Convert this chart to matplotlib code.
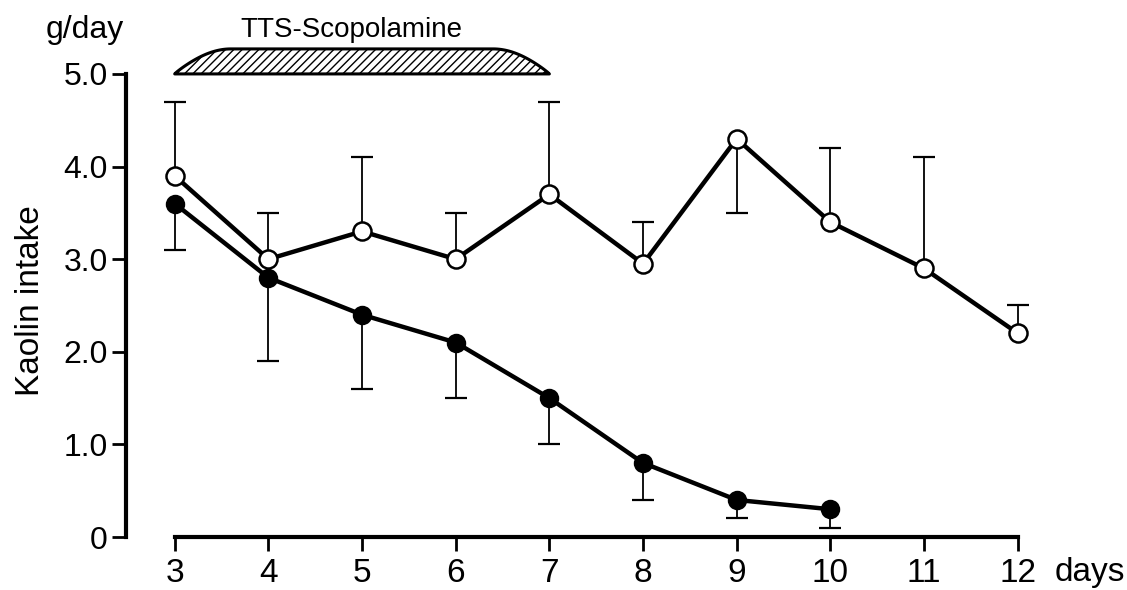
import numpy as np
import matplotlib
matplotlib.use("Agg")
import matplotlib.pyplot as plt

plt.rcParams['font.family'] = ['Liberation Sans', 'DejaVu Sans']

# kaolin intake (g/day), open = control, filled = scopolamine
days_open = [3, 4, 5, 6, 7, 8, 9, 10, 11, 12]
open_mean = [3.9, 3.0, 3.3, 3.0, 3.7, 2.95, 4.3, 3.4, 2.9, 2.2]
# open circles: upper bar on all days except day 9, which has a lower bar
open_err_up = [0.8, 0.5, 0.8, 0.5, 1.0, 0.45, 0.0, 0.8, 1.2, 0.3]
open_err_down = [0.0, 0.0, 0.0, 0.0, 0.0, 0.0, 0.8, 0.0, 0.0, 0.0]

days_filled = [3, 4, 5, 6, 7, 8, 9, 10]
filled_mean = [3.6, 2.8, 2.4, 2.1, 1.5, 0.8, 0.4, 0.3]
filled_err_down = [0.5, 0.9, 0.8, 0.6, 0.5, 0.4, 0.2, 0.2]

treat_start, treat_end = 3, 7
xticks = [3, 4, 5, 6, 7, 8, 9, 10, 11, 12]
yticks = [0, 1, 2, 3, 4, 5]
ytick_labels = ['0', '1.0', '2.0', '3.0', '4.0', '5.0']

fig = plt.figure(figsize=(11.27, 5.9), dpi=100)
ax = fig.add_axes([0.1118, 0.0898, 0.812, 0.832])


def one_sided(x, y, err, up):
    x = np.array(x)
    y = np.array(y)
    err = np.array(err)
    keep = err > 0
    if not keep.any():
        return
    zeros = np.zeros(keep.sum())
    yerr = [zeros, err[keep]] if up else [err[keep], zeros]
    _, caps, _ = ax.errorbar(x[keep], y[keep], yerr=yerr, fmt='none', ecolor='black',
                             elinewidth=1.3, capsize=8, capthick=1.6, zorder=2)
    # hide the cap sitting on the mean
    caps[0 if up else 1].set_visible(False)


one_sided(days_open, open_mean, open_err_up, True)
one_sided(days_open, open_mean, open_err_down, False)
one_sided(days_filled, filled_mean, filled_err_down, False)

ax.plot(days_filled, filled_mean, color='black', lw=3.2, marker='o', ms=12.5,
        mfc='black', mec='black', mew=1.5, zorder=3)
ax.plot(days_open, open_mean, color='black', lw=3.2, marker='o', ms=13,
        mfc='white', mec='black', mew=1.8, zorder=4)

# treatment bar
h = 0.27
xs = np.linspace(treat_start, treat_end, 300)
ramp_l = 0.6
ramp_r = 0.6
prof = np.ones_like(xs)
m = xs < treat_start + ramp_l
prof[m] = np.sin(np.pi / 2 * (xs[m] - treat_start) / ramp_l) ** 0.9
m = xs > treat_end - ramp_r
prof[m] = np.sin(np.pi / 2 * (treat_end - xs[m]) / ramp_r) ** 0.9
ax.fill_between(xs, 5.0, 5.0 + h * prof, facecolor='white', edgecolor='black',
                hatch='////', lw=2.2, clip_on=False, zorder=5)

ax.set_xlim(2.48, 12.25)
ax.set_ylim(0, 5.3)
for s in ['top', 'right']:
    ax.spines[s].set_visible(False)
ax.spines['left'].set_bounds(0, 5)
ax.spines['bottom'].set_bounds(3, 12)
ax.spines['left'].set_linewidth(3)
ax.spines['bottom'].set_linewidth(3)

ax.set_xticks(xticks)
ax.set_xticklabels([str(d) for d in xticks])
ax.set_yticks(yticks)
ax.set_yticklabels(ytick_labels)
ax.tick_params(axis='y', direction='out', length=10, width=2, pad=3, labelsize=23)
ax.tick_params(axis='x', direction='out', length=10, width=2, pad=5, labelsize=24)

ax.text(2.04, 5.47, 'g/day', fontsize=23, ha='center', va='center', clip_on=False)
ax.text(4.89, 5.47, 'TTS-Scopolamine', fontsize=20, ha='center', va='center', clip_on=False)
fig.text(0.936, 0.029, 'days', fontsize=24, ha='left', va='center')
fig.text(0.027, 0.49, 'Kaolin intake', fontsize=24, rotation=90, ha='center', va='center')

fig.savefig('out.png', dpi=100, facecolor='white')
